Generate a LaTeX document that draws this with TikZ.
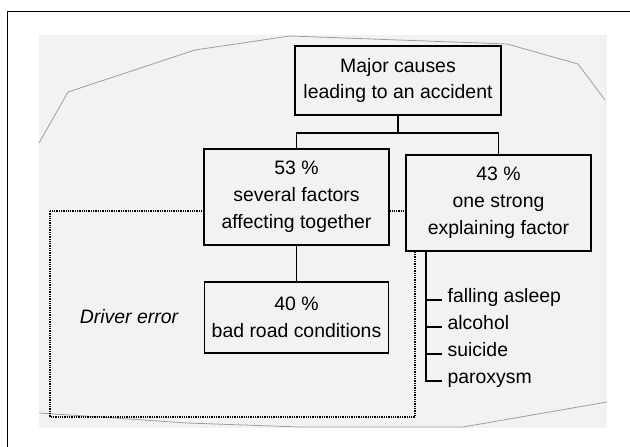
\documentclass[tikz,border=0pt]{standalone}
\usepackage{fontspec}
\setmainfont{Liberation Sans}
\definecolor{paper}{gray}{0.95}
\definecolor{edge}{gray}{0.62}
\begin{document}
\begin{tikzpicture}[x=1bp,y=-1bp,line width=1.2bp,
  font=\fontsize{19.5}{27}\selectfont,
  box/.style={draw,fill=paper,align=center,inner sep=0pt},
  item/.style={anchor=mid west,inner sep=5bp},
  dotbox/.style={densely dotted,line width=1.3bp}]
\useasboundingbox (0,0) rectangle (630,447);
\draw[line width=1bp] (630,12) -- (7,12) -- (7,447);
\fill[paper] (39,35) rectangle (607,428);
\draw[edge,line width=0.8bp] (39,143) -- (68,92) -- (195,50) -- (290,36) -- (507,44) -- (578,64) -- (605,100);
\draw[edge,line width=0.8bp] (39,413) -- (100,417) -- (187,423) -- (300,427) -- (463,427) -- (607,402);
\draw[dotbox] (50,211) rectangle (415,417);
\node[box,minimum width=206bp,minimum height=69bp] (top) at (398,80.5) {Major causes\\leading to an accident};
\node[box,minimum width=185bp,minimum height=96bp] (several) at (296.5,197) {53 \%\\several factors\\affecting together};
\node[box,minimum width=185bp,minimum height=96bp] (strong) at (498.5,203) {43 \%\\one strong\\explaining factor};
\node[box,minimum width=184bp,minimum height=71bp] (road) at (296.5,317.5) {40 \%\\bad road conditions};
\node (driver) at (129,317) {\itshape Driver error};
\coordinate (fork) at (398,133);
\draw (top.south) -- (fork);
\draw (fork) -| (several.north);
\draw (fork) -| (strong.north);
\draw (several.south) -- (road.north);
\foreach \t [count=\i] in {falling asleep,alcohol,suicide,paroxysm}
  \node[item] (i\i) at (442,273+27*\i) {\t};
\coordinate (spine) at (426,251);
\draw (spine) |- (i4.mid west);
\foreach \i in {1,2,3}
  \draw (i\i.mid west -| spine) -- (i\i.mid west);
\end{tikzpicture}
\end{document}
